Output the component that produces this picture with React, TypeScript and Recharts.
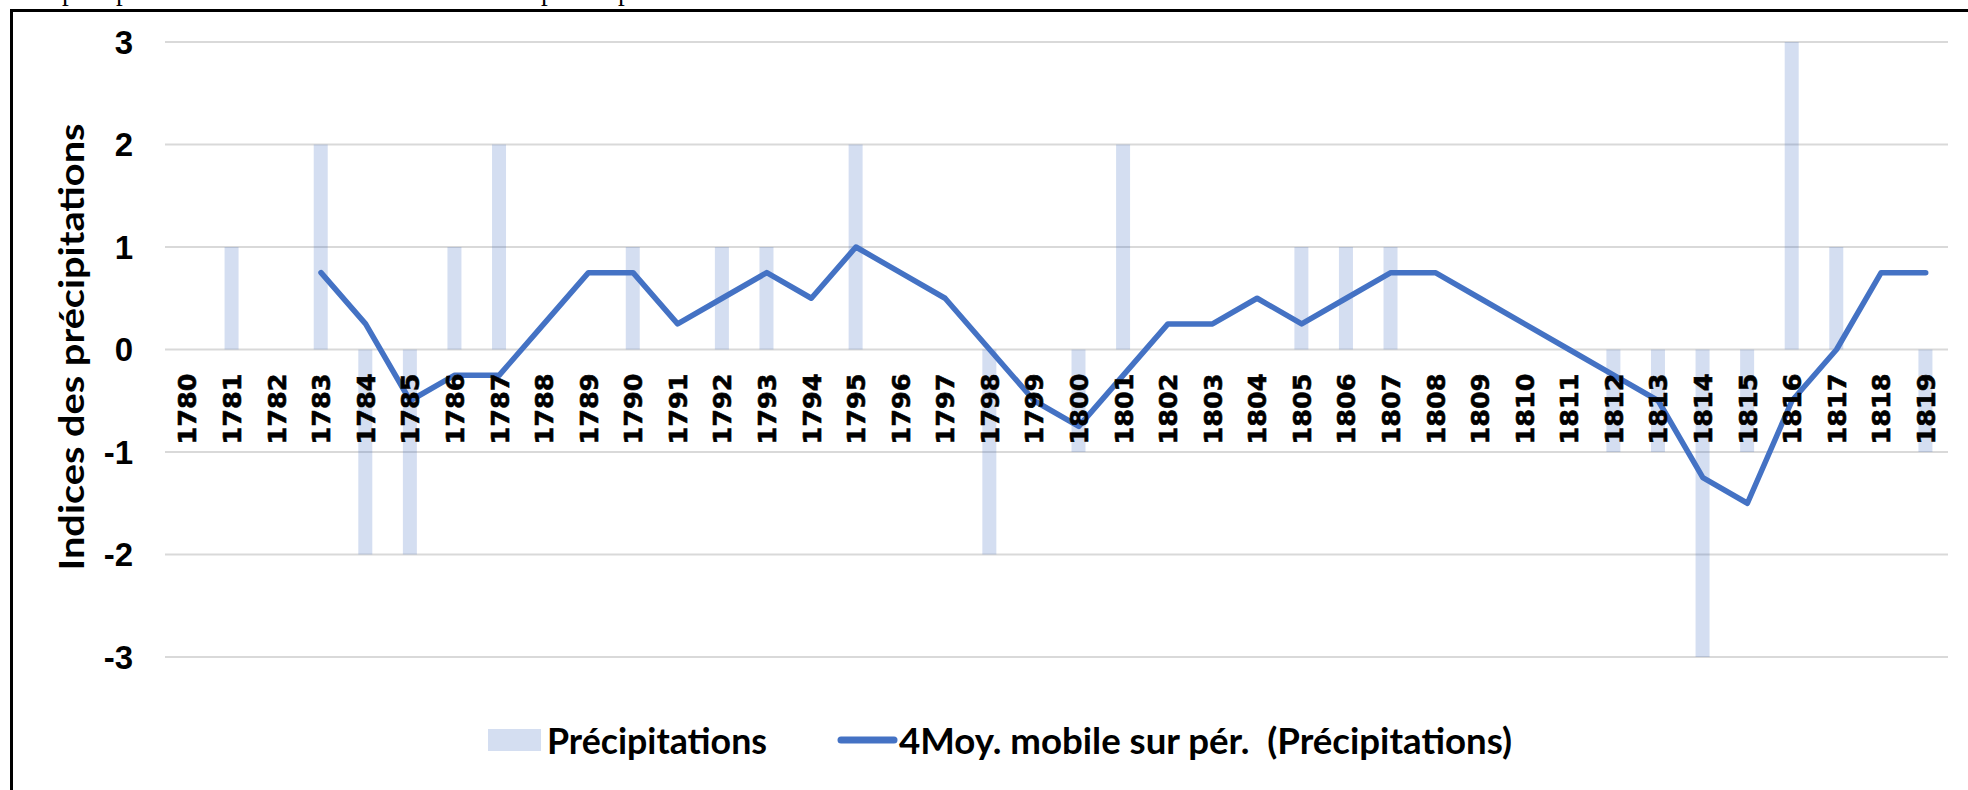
import React from 'react';
import { ComposedChart, Bar, Line, XAxis, YAxis, CartesianGrid } from 'recharts';

const years = [
  '1780', '1781', '1782', '1783', '1784', '1785', '1786', '1787', '1788', '1789',
  '1790', '1791', '1792', '1793', '1794', '1795', '1796', '1797', '1798', '1799',
  '1800', '1801', '1802', '1803', '1804', '1805', '1806', '1807', '1808', '1809',
  '1810', '1811', '1812', '1813', '1814', '1815', '1816', '1817', '1818', '1819',
];

const precipitations = [
  0, 1, 0, 2, -2, -2, 1, 2, 0, 0,
  1, 0, 1, 1, 0, 2, 0, 0, -2, 0,
  -1, 2, 0, 0, 0, 1, 1, 1, 0, 0,
  0, 0, -1, -1, -3, -1, 3, 1, 0, -1,
];

const movingAverage = [
  null, null, null, 0.75, 0.25, -0.5, -0.25, -0.25, 0.25, 0.75,
  0.75, 0.25, 0.5, 0.75, 0.5, 1, 0.75, 0.5, 0, -0.5,
  -0.75, -0.25, 0.25, 0.25, 0.5, 0.25, 0.5, 0.75, 0.75, 0.5,
  0.25, 0, -0.25, -0.5, -1.25, -1.5, -0.5, 0, 0.75, 0.75,
];

const yTicks = [-3, -2, -1, 0, 1, 2, 3];
const barName = 'Précipitations';
const lineName = '4Moy. mobile sur pér.  (Précipitations)';
const yAxisTitle = 'Indices des précipitations';

const data = years.map((year, i) => ({
  year,
  precip: precipitations[i],
  ma: movingAverage[i],
}));

const W = 1968;
const H = 790;
const YAXIS_W = 100;
const XAXIS_H = 30;
const M = { top: 42, right: 20, bottom: 103, left: 65 };
const PLOT_TOP = M.top;
const PLOT_BOTTOM = H - M.bottom - XAXIS_H;
const ZERO_Y = PLOT_TOP + (PLOT_BOTTOM - PLOT_TOP) / 2;

const LINE_COLOR = '#4472C4';
const BAR_FILL = '#4472C4';
const BAR_OPACITY = 0.23;

const XTick = (props: any) => {
  const { x, payload } = props;
  return (
    <text
      transform={`translate(${x},${ZERO_Y + 24}) rotate(-90)`}
      textAnchor="end"
      dy="0.36em"
      fontFamily="'DejaVu Sans', sans-serif"
      fontWeight={700}
      fontSize={25.5}
      fill="#000"
      stroke="#000"
      strokeWidth={0.6}
    >
      {payload.value}
    </text>
  );
};

export default function App() {
  return (
    <div style={{ position: 'absolute', left: 0, top: 0, width: W, height: H, overflow: 'hidden', background: '#fff' }}>
      {/* frame */}
      <div style={{ position: 'absolute', left: 10, top: 9, width: W, height: H, borderLeft: '3px solid #000', borderTop: '3px solid #000' }} />
      <div style={{ position: 'absolute', left: 0, top: 0 }}>
        <ComposedChart width={W} height={H} data={data} margin={M}>
          <CartesianGrid horizontal vertical={false} stroke="#d9d9d9" strokeWidth={2} />
          <XAxis
            dataKey="year"
            interval={0}
            tickLine={false}
            axisLine={false}
            height={XAXIS_H}
            tick={<XTick />}
          />
          <YAxis
            domain={[-3, 3]}
            ticks={yTicks}
            width={YAXIS_W}
            axisLine={false}
            tickLine={false}
            tickSize={0}
            tickMargin={32}
            tick={{ fontFamily: "'Liberation Sans', Arial, sans-serif", fontWeight: 700, fontSize: 33, fill: '#000' }}
          />
          <Bar dataKey="precip" name={barName} fill={BAR_FILL} fillOpacity={BAR_OPACITY} barSize={14} isAnimationActive={false} />
          <Line
            dataKey="ma"
            name={lineName}
            type="linear"
            stroke={LINE_COLOR}
            strokeWidth={5.5}
            dot={false}
            activeDot={false}
            strokeLinejoin="round"
            strokeLinecap="round"
            connectNulls={false}
            isAnimationActive={false}
          />
        </ComposedChart>
      </div>
      <svg width={W} height={H} style={{ position: 'absolute', left: 0, top: 0, pointerEvents: 'none' }}>
        {/* cut-off caption above the frame */}
        {[62, 116, 541, 618].map((px, i) => (
          <text key={i} x={px} y={0} fontFamily="'Liberation Serif', serif" fontSize={27} fill="#000">p</text>
        ))}
        {/* y-axis title */}
        <text
          transform="translate(84,347) rotate(-90)"
          textAnchor="middle"
          fontFamily="Lato, sans-serif"
          fontWeight={700}
          fontSize={34}
          fill="#000"
          textLength={447}
          lengthAdjust="spacingAndGlyphs"
        >
          {yAxisTitle}
        </text>
        {/* legend */}
        <rect x={488} y={729} width={53} height={22} fill={BAR_FILL} fillOpacity={BAR_OPACITY} />
        <text x={547} y={754} fontFamily="Lato, sans-serif" fontWeight={700} fontSize={37} fill="#000" textLength={220} lengthAdjust="spacingAndGlyphs">
          {barName}
        </text>
        <line x1={841} y1={740} x2={894} y2={740} stroke={LINE_COLOR} strokeWidth={7} strokeLinecap="round" />
        <text x={899} y={754} fontFamily="Lato, sans-serif" fontWeight={700} fontSize={37} fill="#000" textLength={613} lengthAdjust="spacingAndGlyphs" style={{ whiteSpace: 'pre' }}>
          {lineName}
        </text>
      </svg>
    </div>
  );
}
